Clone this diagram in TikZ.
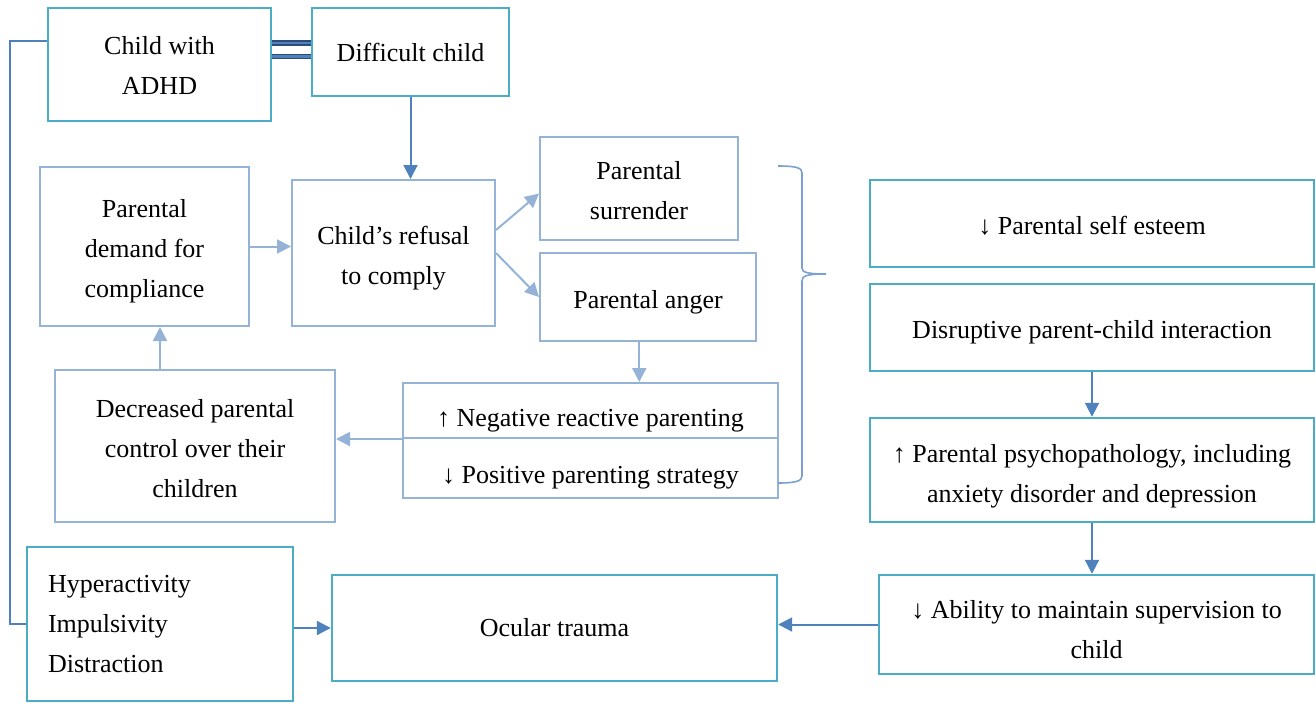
\documentclass[tikz,border=0pt]{standalone}
\usepackage{fontspec}
\setmainfont{Liberation Serif}
\usetikzlibrary{calc,arrows.meta}
\definecolor{teal1}{HTML}{4BACC6}
\definecolor{lblue}{HTML}{95B3D7}
\definecolor{dblue}{HTML}{4F81BD}
\definecolor{navy}{HTML}{2C4D75}
\definecolor{bracec}{HTML}{7BA0D0}
\newcommand{\sdown}[1]{\rule{0pt}{#1}}
\begin{document}
\begin{tikzpicture}[x=0.5pt,y=-0.5pt,
 every node/.style={font=\fontsize{13}{20}\selectfont, inner sep=0pt},
 tbox/.style={draw=teal1, line width=1.2pt, align=center},
 lbox/.style={draw=lblue, line width=1pt, align=center},
 tdown/.style={execute at begin node={\rule{0pt}{#1}}},
 darr/.style={draw=dblue, line width=1pt, -{Triangle[length=7pt,width=7pt]}},
 larr/.style={draw=lblue, line width=1pt, -{Triangle[length=7pt,width=7pt]}},
 dline/.style={draw=dblue, line width=1pt},
 eqbar/.style={draw=navy, line width=0.9pt, double=dblue, double distance=1.1pt},
]
\useasboundingbox (0,0) rectangle (1316,703);
% teal boxes
\node[tbox, minimum width=111.5pt, minimum height=56.5pt] (adhd) at (159.5,64.5) {\sdown{10.5pt}Child with\\ADHD};
\node[tbox, minimum width=98.5pt, minimum height=44pt] (diff) at (410.5,52) {Difficult child};
\node[tbox, tdown=11pt, minimum width=222pt, minimum height=43.5pt] (self) at (1092,223.5) {↓ Parental self esteem};
\node[tbox, tdown=14pt, minimum width=222pt, minimum height=43.5pt] (disr) at (1092,327.5) {Disruptive parent-child interaction};
\node[tbox, minimum width=222pt, minimum height=52pt] (psych) at (1092,470) {\sdown{15pt}↑ Parental psychopathology, including\\anxiety disorder and depression};
\node[tbox, minimum width=217.5pt, minimum height=49.5pt] (abil) at (1096.5,624.5) {\sdown{14pt}↓ Ability to maintain supervision to\\child};
\node[tbox, minimum width=222.5pt, minimum height=53pt] (ocul) at (554.5,628) {Ocular trauma};
\node[tbox, minimum height=77pt, text width=112pt, inner xsep=10.5pt, align=left] (hyp) at (160,624) {Hyperactivity\\Impulsivity\\Distraction};
% light boxes
\node[lbox, minimum width=101.5pt, minimum height=73pt] (refu) at (393.5,253) {\sdown{14pt}Child’s refusal\\to comply};
\node[lbox, minimum width=104.5pt, minimum height=79.5pt] (dem) at (144.5,246.5) {\sdown{14pt}Parental\\demand for\\compliance};
\node[lbox, minimum width=99pt, minimum height=51.5pt] (surr) at (639,188.5) {\sdown{11pt}Parental\\surrender};
\node[lbox, tdown=14pt, minimum width=108pt, minimum height=44pt] (ang) at (648,297) {Parental anger};
\node[lbox, tdown=19pt, minimum width=187.5pt, minimum height=27.5pt] (neg) at (590.5,410.5) {↑ Negative reactive parenting};
\node[lbox, tdown=18pt, minimum width=187.5pt, minimum height=30pt] (pos) at (590.5,468) {↓ Positive parenting strategy};
\node[lbox, minimum width=140pt, minimum height=76pt] (dec) at (195,446) {\sdown{12pt}Decreased parental\\control over their\\children};
% equal sign
\draw[eqbar] (adhd.east |- 0,43) -- (diff.west |- 0,43);
\draw[eqbar] (adhd.east |- 0,56.5) -- (diff.west |- 0,56.5);
% left line
\coordinate (lc) at (10,624);
\coordinate (la) at ($(adhd.north west)!0.3!(adhd.south west)$);
\draw[dline] (la) -- (la -| lc) -- (lc) -- (hyp.west);
% dark arrows
\draw[darr] (diff.south) -- (diff.south |- refu.north);
\draw[darr] (disr.south) -- (psych.north);
\draw[darr] (psych.south) -- (psych.south |- abil.north);
\draw[darr] (abil.west) -- (ocul.east |- abil.west);
\draw[darr] (hyp.east |- ocul.west) -- (ocul.west);
% light arrows
\draw[larr] (dem.east) -- (refu.west |- dem.east);
\draw[larr] ($(refu.east)+(0,-23)$) -- ($(surr.west)+(0,5)$);
\draw[larr] (refu.east) -- (ang.west);
\coordinate (aa) at ($(ang.south west)!0.46!(ang.south east)$);
\draw[larr] (aa) -- (aa |- neg.north);
\draw[larr] (neg.south west) -- (dec.east |- neg.south west);
\coordinate (ux) at (160,0);
\draw[larr] (dec.north -| ux) -- (dem.south -| ux);
% brace
\draw[draw=bracec, line width=0.8pt] (778,166) .. controls (797,166) and (802,168) .. (802,173) -- (802,268) .. controls (802,272) and (806,274) .. (826,274) .. controls (806,274) and (802,276) .. (802,281) -- (802,476) .. controls (802,481) and (796,483) .. (778,483);
\end{tikzpicture}
\end{document}
